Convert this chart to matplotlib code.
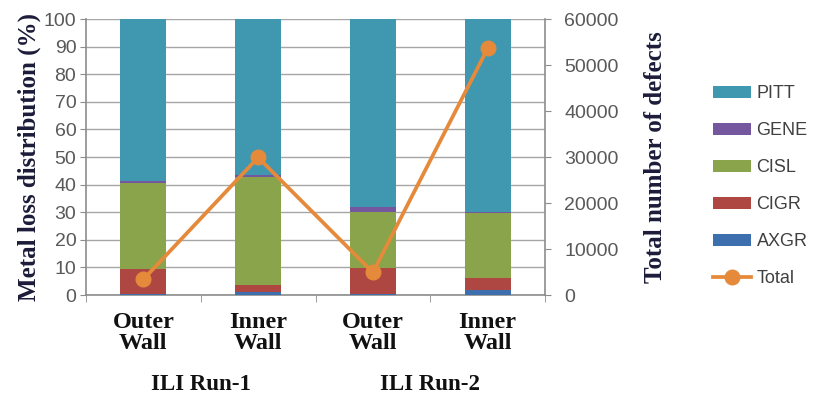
import numpy as np
import matplotlib.pyplot as plt

# metal loss shares per wall (%), bottom to top of the stack
walls = ['Outer\nWall', 'Inner\nWall', 'Outer\nWall', 'Inner\nWall']
runs = ['ILI Run-1', 'ILI Run-2']
axgr = [0.5, 1.2, 0.5, 1.8]
cigr = [8.9, 2.4, 9.2, 4.2]
cisl = [31.3, 39.3, 20.3, 23.6]
gene = [0.6, 0.6, 1.8, 0.3]
pitt = [100 - a - b - c - d for a, b, c, d in zip(axgr, cigr, cisl, gene)]
total = [3400, 29900, 4900, 53600]

series = [('AXGR', axgr, '#3D6FAF'),
          ('CIGR', cigr, '#AE4742'),
          ('CISL', cisl, '#89A44A'),
          ('GENE', gene, '#7557A0'),
          ('PITT', pitt, '#4097B0')]

serif = 'Liberation Serif'
sans = 'Liberation Sans'
tick_col = '#595959'
axis_col = '#8C8C8C'

fig = plt.figure(figsize=(8.16, 3.96), dpi=100)
ax = fig.add_axes([0.1054, 0.255, 0.5625, 0.697])
x = np.arange(len(walls))

bottom = np.zeros(len(walls))
handles = {}
for name, vals, col in series:
    b = ax.bar(x, vals, 0.4, bottom=bottom, color=col, zorder=3)
    handles[name] = b
    bottom += np.array(vals)

ax.set_xlim(-0.5, 3.5)
ax.set_ylim(0, 100)
ax.set_yticks(range(0, 101, 10))
ax.yaxis.grid(True, color='#A6A6A6', linewidth=1.0, zorder=0)
ax.set_axisbelow(True)

ax.set_xticks(x)
ax.set_xticklabels(walls, fontfamily=serif, fontweight='bold', fontsize=17.5,
                   color='#111111', linespacing=1.02)
ax.set_xticks([-0.5, 0.5, 1.5, 2.5, 3.5], minor=True)
ax.tick_params(axis='x', which='major', length=0, pad=12)
ax.tick_params(axis='x', which='minor', length=5, color=axis_col, direction='out')
ax.tick_params(axis='y', length=4, color=axis_col, labelsize=14,
               labelcolor=tick_col, pad=3)
for lab in ax.get_yticklabels():
    lab.set_fontfamily(sans)

for side in ['top', 'right']:
    ax.spines[side].set_visible(False)
for side in ['left', 'bottom']:
    ax.spines[side].set_color(axis_col)
    ax.spines[side].set_linewidth(1.2)

ax.set_ylabel('Metal loss distribution (%)', fontfamily=serif, fontweight='bold',
              fontsize=18, color='#1C1C3A', labelpad=2)

for i, r in enumerate(runs):
    ax.text(2 * i + 0.5, -0.325, r, transform=ax.get_xaxis_transform(),
            ha='center', va='center', fontfamily=serif, fontweight='bold',
            fontsize=16.5, color='#111111')

ax2 = ax.twinx()
line, = ax2.plot(x, total, color='#E58A3A', linewidth=2.7, marker='o',
                 markersize=10.5, zorder=5, label='Total')
ax2.set_ylim(0, 60000)
ax2.set_yticks(range(0, 60001, 10000))
ax2.tick_params(axis='y', length=4, color=axis_col, labelsize=14,
                labelcolor=tick_col, pad=10)
for lab in ax2.get_yticklabels():
    lab.set_fontfamily(sans)
for side in ['top', 'left', 'bottom']:
    ax2.spines[side].set_visible(False)
ax2.spines['right'].set_color(axis_col)
ax2.spines['right'].set_linewidth(1.2)
ax2.set_ylabel('Total number of defects', fontfamily=serif, fontweight='bold',
               fontsize=18, color='#1C1C3A', labelpad=18)

order = ['PITT', 'GENE', 'CISL', 'CIGR', 'AXGR']
leg = fig.legend([handles[n] for n in order] + [line], order + ['Total'],
                 loc='upper left', bbox_to_anchor=(0.874, 0.785),
                 frameon=False, labelspacing=1.11, borderpad=0, borderaxespad=0,
                 handlelength=2.1, handleheight=0.7, handletextpad=0.3,
                 prop={'family': sans, 'size': 13})
for t in leg.get_texts():
    t.set_color('#404040')

fig.savefig('out.png', dpi=100)
